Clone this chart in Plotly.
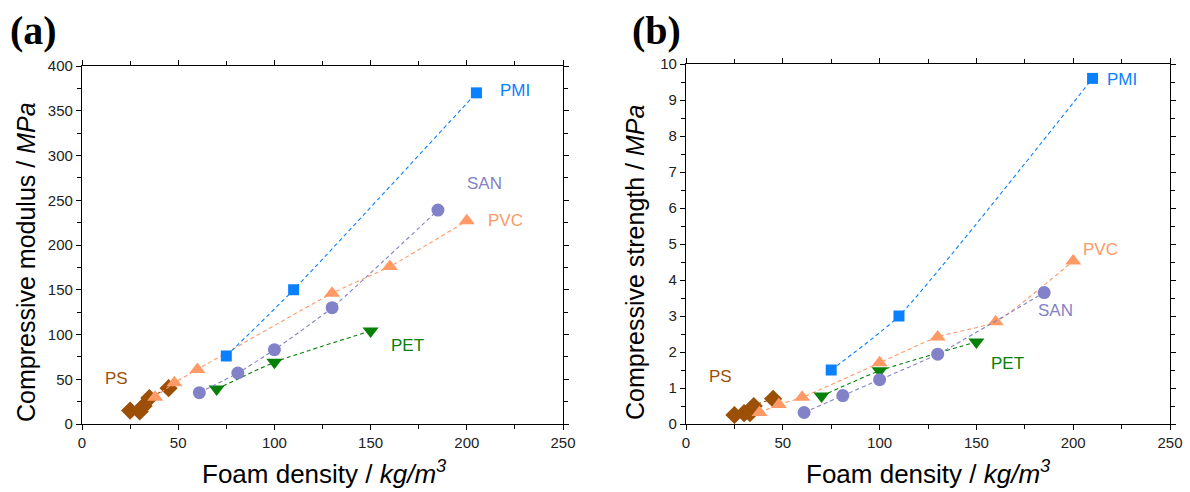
import plotly.graph_objects as go

# ---------------- data ----------------
# Panel (a): compressive modulus (MPa) vs foam density (kg/m3)
pmi_x_a = [75, 110, 205]
pmi_y_a = [76, 150, 370]
san_x_a = [61, 81, 100, 130, 185]
san_y_a = [35, 57, 83, 130, 239]
pvc_x_a = [38, 48, 60, 130, 160, 200]
pvc_y_a = [30, 46, 61, 146, 176, 227]
pet_x_a = [70, 100, 150]
pet_y_a = [39, 69, 104]
ps_x_a = [25, 30, 32, 35, 45]
ps_y_a = [15, 14, 20, 29, 40]

# Panel (b): compressive strength (MPa) vs foam density (kg/m3)
pmi_x_b = [75, 110, 210]
pmi_y_b = [1.5, 3.0, 9.6]
san_x_b = [61, 81, 100, 130, 185]
san_y_b = [0.32, 0.79, 1.23, 1.94, 3.65]
pvc_x_b = [38, 48, 60, 100, 130, 160, 200]
pvc_y_b = [0.32, 0.54, 0.74, 1.70, 2.42, 2.84, 4.53]
pet_x_b = [70, 100, 150]
pet_y_b = [0.78, 1.48, 2.28]
ps_x_b = [25, 30, 33, 35, 45]
ps_y_b = [0.25, 0.30, 0.30, 0.50, 0.70]

C_PMI = "#0A80FF"
C_SAN = "#8282C8"
C_PVC = "#FF9966"
C_PET = "#068006"
C_PS = "#9C4F06"

FONT = "Liberation Sans, Arial, sans-serif"

fig = go.Figure()


def add(x, y, color, symbol, size, xa, ya):
    fig.add_trace(go.Scatter(
        x=x, y=y, mode="lines+markers", xaxis=xa, yaxis=ya,
        line=dict(color=color, width=1.1, dash="4px,3px", shape="spline", smoothing=0.5),
        marker=dict(color=color, symbol=symbol, size=size, line=dict(width=0)),
        showlegend=False, hoverinfo="skip"))


for xa, ya, d in [("x", "y", [(ps_x_a, ps_y_a), (pvc_x_a, pvc_y_a), (pet_x_a, pet_y_a),
                                (san_x_a, san_y_a), (pmi_x_a, pmi_y_a)]),
                  ("x2", "y2", [(ps_x_b, ps_y_b), (pvc_x_b, pvc_y_b), (pet_x_b, pet_y_b),
                                (san_x_b, san_y_b), (pmi_x_b, pmi_y_b)])]:
    add(*d[0], C_PS, "diamond", 14, xa, ya)
    add(*d[1], C_PVC, "triangle-up", 14, xa, ya)
    add(*d[2], C_PET, "triangle-down", 14, xa, ya)
    add(*d[3], C_SAN, "circle", 13, xa, ya)
    add(*d[4], C_PMI, "square", 11, xa, ya)

W, H = 1190, 492


def px(v):
    return v / W


def py(v):
    return 1 - v / H


axis_common = dict(
    showline=True, linecolor="black", linewidth=1.2, mirror="allticks",
    ticks="outside", ticklen=5, tickwidth=1, tickcolor="black",
    showgrid=False, zeroline=False, automargin=False,
    tickfont=dict(family=FONT, size=15, color="#222"),
)

fig.update_layout(
    width=W, height=H,
    margin=dict(l=0, r=0, t=0, b=0, pad=0, autoexpand=False),
    paper_bgcolor="white", plot_bgcolor="white",
    xaxis=dict(domain=[px(82), px(563)], range=[0, 250], dtick=50, anchor="y",
               minor=dict(dtick=25, ticks="outside", ticklen=4, tickcolor="black"),
               **axis_common),
    yaxis=dict(domain=[py(424), py(66)], range=[0, 400], dtick=50, anchor="x",
               minor=dict(dtick=25, ticks="outside", ticklen=4, tickcolor="black"),
               **axis_common),
    xaxis2=dict(domain=[px(686), px(1170)], range=[0, 250], dtick=50, anchor="y2",
                minor=dict(dtick=25, ticks="outside", ticklen=4, tickcolor="black"),
                **axis_common),
    yaxis2=dict(domain=[py(424), py(64)], range=[0, 10], dtick=1, anchor="x2",
                minor=dict(dtick=0.5, ticks="outside", ticklen=4, tickcolor="black"),
                **axis_common),
)

ann = []
# panel letters
ann.append(dict(x=px(8), y=py(30), xref="paper", yref="paper", text="<b>(a)</b>",
                showarrow=False, xanchor="left", yanchor="middle",
                font=dict(family="Liberation Serif, Times New Roman, serif", size=40, color="black")))
ann.append(dict(x=px(630), y=py(30), xref="paper", yref="paper", text="<b>(b)</b>",
                showarrow=False, xanchor="left", yanchor="middle",
                font=dict(family="Liberation Serif, Times New Roman, serif", size=40, color="black")))
# axis titles
ann.append(dict(x=px(26), y=py(262), xref="paper", yref="paper", textangle=-90,
                xanchor="center", yanchor="middle",
                text="Compressive modulus / <i>MPa</i>", showarrow=False,
                font=dict(family=FONT, size=25, color="black")))
ann.append(dict(x=px(635), y=py(262), xref="paper", yref="paper", textangle=-90,
                xanchor="center", yanchor="middle",
                text="Compressive strength / <i>MPa</i>", showarrow=False,
                font=dict(family=FONT, size=25, color="black")))
ann.append(dict(x=px(324), y=py(472), xref="paper", yref="paper",
                xanchor="center", yanchor="middle",
                text="Foam density / <i>kg/m<sup>3</sup></i>", showarrow=False,
                font=dict(family=FONT, size=26, color="black")))
ann.append(dict(x=px(928), y=py(472), xref="paper", yref="paper",
                xanchor="center", yanchor="middle",
                text="Foam density / <i>kg/m<sup>3</sup></i>", showarrow=False,
                font=dict(family=FONT, size=26, color="black")))

# series labels
labels_a = [("PMI", 225, 373, C_PMI), ("SAN", 209, 269, C_SAN), ("PVC", 220, 227, C_PVC),
            ("PET", 169, 88, C_PET), ("PS", 18, 51, C_PS)]
labels_b = [("PMI", 225, 9.56, C_PMI), ("PVC", 214, 4.86, C_PVC), ("SAN", 191, 3.14, C_SAN),
            ("PET", 166, 1.69, C_PET), ("PS", 17.6, 1.33, C_PS)]
for t, x, y, c in labels_a:
    ann.append(dict(x=x, y=y, xref="x", yref="y", text=t, showarrow=False,
                    xanchor="center", yanchor="middle",
                    font=dict(family=FONT, size=17, color=c)))
for t, x, y, c in labels_b:
    ann.append(dict(x=x, y=y, xref="x2", yref="y2", text=t, showarrow=False,
                    xanchor="center", yanchor="middle",
                    font=dict(family=FONT, size=17, color=c)))

fig.update_layout(annotations=ann)

fig.write_html("out.html")
